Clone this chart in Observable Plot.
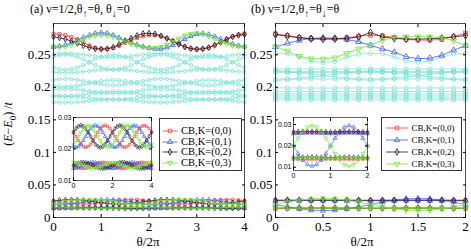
<!DOCTYPE html>
<html><head><meta charset="utf-8">
<script src="https://cdn.jsdelivr.net/npm/d3@7"></script>
<script src="https://cdn.jsdelivr.net/npm/@observablehq/plot@0.6"></script>
<style>
body{margin:0;background:#fff;}
#root{position:relative;width:471px;height:249px;overflow:hidden;font-family:"Liberation Serif",serif;color:#000;}
#root > svg{position:absolute;left:0;top:0;}
.txt{position:absolute;white-space:nowrap;line-height:1;}
.legend{position:absolute;border:1px solid #333;background:#fff;box-sizing:border-box;}
.legend .row{position:absolute;left:0;white-space:nowrap;line-height:1;}
.legend svg{position:absolute;overflow:visible;}
</style></head>
<body><div id="root"></div>
<script>
// ---------------- data ----------------
const thetaA = [0,0.125,0.25,0.375,0.5,0.625,0.75,0.875,1,1.125,1.25,1.375,1.5,1.625,1.75,1.875,2,2.125,2.25,2.375,2.5,2.625,2.75,2.875,3,3.125,3.25,3.375,3.5,3.625,3.75,3.875,4];
const thetaB = [0,0.125,0.25,0.375,0.5,0.625,0.75,0.875,1,1.125,1.25,1.375,1.5,1.625,1.75,1.875,2];

const xTicksA = [0,1,2,3,4];
const xTicksB = [0,0.5,1,1.5,2];
const yTicks = [0,0.05,0.1,0.15,0.2,0.25];
const insetXTicksA = [0,2,4];
const insetXTicksB = [0,1,2];
const insetYTicks = [0.01,0.02,0.03];
const legendLabels = ["CB,K=(0,0)","CB,K=(0,1)","CB,K=(0,2)","CB,K=(0,3)"];

// panel (a) top states
const aRedTop   = [0.2820,0.2815,0.2800,0.2770,0.2735,0.2690,0.2640,0.2605,0.2590,0.2590,0.2605,0.2640,0.2685,0.2725,0.2760,0.2785,0.2800,0.2800,0.2785,0.2755,0.2715,0.2670,0.2625,0.2595,0.2585,0.2590,0.2610,0.2650,0.2695,0.2740,0.2780,0.2810,0.2825];
const aBlueTop  = [0.2620,0.2630,0.2650,0.2685,0.2725,0.2765,0.2800,0.2828,0.2838,0.2830,0.2800,0.2760,0.2720,0.2685,0.2655,0.2625,0.2605,0.2590,0.2590,0.2610,0.2645,0.2690,0.2740,0.2785,0.2815,0.2825,0.2810,0.2780,0.2740,0.2700,0.2665,0.2640,0.2625];
const aBlackTop = [0.2775,0.2760,0.2740,0.2710,0.2675,0.2640,0.2610,0.2592,0.2585,0.2592,0.2615,0.2660,0.2710,0.2755,0.2795,0.2825,0.2832,0.2820,0.2790,0.2750,0.2705,0.2660,0.2620,0.2595,0.2585,0.2590,0.2610,0.2645,0.2690,0.2735,0.2775,0.2800,0.2810];
const aGreenTop = [0.2625,0.2615,0.2625,0.2650,0.2695,0.2740,0.2775,0.2792,0.2800,0.2795,0.2775,0.2745,0.2705,0.2665,0.2635,0.2615,0.2605,0.2605,0.2620,0.2655,0.2700,0.2750,0.2795,0.2822,0.2830,0.2815,0.2785,0.2745,0.2700,0.2665,0.2640,0.2625,0.2620];

// panel (a) cyan states
const aCyan1  = [0.2511,0.2518,0.2520,0.2518,0.2511,0.2501,0.2490,0.2479,0.2469,0.2462,0.2460,0.2462,0.2469,0.2479,0.2490,0.2501,0.2511,0.2518,0.2520,0.2518,0.2511,0.2501,0.2490,0.2479,0.2469,0.2462,0.2460,0.2462,0.2469,0.2479,0.2490,0.2501,0.2511];
const aCyan2  = [0.2304,0.2279,0.2270,0.2279,0.2304,0.2341,0.2385,0.2429,0.2466,0.2491,0.2500,0.2491,0.2466,0.2429,0.2385,0.2341,0.2304,0.2279,0.2270,0.2279,0.2304,0.2341,0.2385,0.2429,0.2466,0.2491,0.2500,0.2491,0.2466,0.2429,0.2385,0.2341,0.2304];
const aCyan3  = [0.2466,0.2491,0.2500,0.2491,0.2466,0.2429,0.2385,0.2341,0.2304,0.2279,0.2270,0.2279,0.2304,0.2341,0.2385,0.2429,0.2466,0.2491,0.2500,0.2491,0.2466,0.2429,0.2385,0.2341,0.2304,0.2279,0.2270,0.2279,0.2304,0.2341,0.2385,0.2429,0.2466];
const aCyan4  = [0.2232,0.2227,0.2225,0.2227,0.2232,0.2240,0.2250,0.2260,0.2268,0.2273,0.2275,0.2273,0.2268,0.2260,0.2250,0.2240,0.2232,0.2227,0.2225,0.2227,0.2232,0.2240,0.2250,0.2260,0.2268,0.2273,0.2275,0.2273,0.2268,0.2260,0.2250,0.2240,0.2232];
const aCyan5  = [0.2115,0.2126,0.2130,0.2126,0.2115,0.2099,0.2080,0.2061,0.2045,0.2034,0.2030,0.2034,0.2045,0.2061,0.2080,0.2099,0.2115,0.2126,0.2130,0.2126,0.2115,0.2099,0.2080,0.2061,0.2045,0.2034,0.2030,0.2034,0.2045,0.2061,0.2080,0.2099,0.2115];
const aCyan6  = [0.2025,0.2014,0.2010,0.2014,0.2025,0.2041,0.2060,0.2079,0.2095,0.2106,0.2110,0.2106,0.2095,0.2079,0.2060,0.2041,0.2025,0.2014,0.2010,0.2014,0.2025,0.2041,0.2060,0.2079,0.2095,0.2106,0.2110,0.2106,0.2095,0.2079,0.2060,0.2041,0.2025];
const aCyan7  = [0.1965,0.1972,0.1975,0.1972,0.1965,0.1953,0.1940,0.1927,0.1915,0.1908,0.1905,0.1908,0.1915,0.1927,0.1940,0.1953,0.1965,0.1972,0.1975,0.1972,0.1965,0.1953,0.1940,0.1927,0.1915,0.1908,0.1905,0.1908,0.1915,0.1927,0.1940,0.1953,0.1965];
const aCyan8  = [0.1875,0.1868,0.1865,0.1868,0.1875,0.1887,0.1900,0.1913,0.1925,0.1932,0.1935,0.1932,0.1925,0.1913,0.1900,0.1887,0.1875,0.1868,0.1865,0.1868,0.1875,0.1887,0.1900,0.1913,0.1925,0.1932,0.1935,0.1932,0.1925,0.1913,0.1900,0.1887,0.1875];
const aCyan9  = [0.1853,0.1858,0.1860,0.1858,0.1853,0.1845,0.1835,0.1825,0.1817,0.1812,0.1810,0.1812,0.1817,0.1825,0.1835,0.1845,0.1853,0.1858,0.1860,0.1858,0.1853,0.1845,0.1835,0.1825,0.1817,0.1812,0.1810,0.1812,0.1817,0.1825,0.1835,0.1845,0.1853];
const aCyan10 = [0.1772,0.1767,0.1765,0.1767,0.1772,0.1780,0.1790,0.1800,0.1808,0.1813,0.1815,0.1813,0.1808,0.1800,0.1790,0.1780,0.1772,0.1767,0.1765,0.1767,0.1772,0.1780,0.1790,0.1800,0.1808,0.1813,0.1815,0.1813,0.1808,0.1800,0.1790,0.1780,0.1772];

// panel (a) low-lying states (main bottom + inset)
const aRedUp    = [0.0253,0.0240,0.0227,0.0215,0.0208,0.0205,0.0208,0.0215,0.0227,0.0240,0.0253,0.0265,0.0272,0.0275,0.0272,0.0265,0.0253,0.0240,0.0227,0.0215,0.0208,0.0205,0.0208,0.0215,0.0227,0.0240,0.0253,0.0265,0.0272,0.0275,0.0272,0.0265,0.0253];
const aBlueUp   = [0.0208,0.0205,0.0208,0.0215,0.0227,0.0240,0.0253,0.0265,0.0272,0.0275,0.0272,0.0265,0.0253,0.0240,0.0227,0.0215,0.0208,0.0205,0.0208,0.0215,0.0227,0.0240,0.0253,0.0265,0.0272,0.0275,0.0272,0.0265,0.0253,0.0240,0.0227,0.0215,0.0208];
const aBlackUp  = [0.0253,0.0265,0.0272,0.0275,0.0272,0.0265,0.0253,0.0240,0.0227,0.0215,0.0208,0.0205,0.0208,0.0215,0.0227,0.0240,0.0253,0.0265,0.0272,0.0275,0.0272,0.0265,0.0253,0.0240,0.0227,0.0215,0.0208,0.0205,0.0208,0.0215,0.0227,0.0240,0.0253];
const aGreenUp  = [0.0215,0.0227,0.0240,0.0253,0.0265,0.0272,0.0275,0.0272,0.0265,0.0253,0.0240,0.0227,0.0215,0.0208,0.0205,0.0208,0.0215,0.0227,0.0240,0.0253,0.0265,0.0272,0.0275,0.0272,0.0265,0.0253,0.0240,0.0227,0.0215,0.0208,0.0205,0.0208,0.0215];
const aRedLow   = [0.0148,0.0144,0.0141,0.0139,0.0138,0.0139,0.0141,0.0144,0.0148,0.0152,0.0155,0.0157,0.0158,0.0157,0.0155,0.0152,0.0148,0.0144,0.0141,0.0139,0.0138,0.0139,0.0141,0.0144,0.0148,0.0152,0.0155,0.0157,0.0158,0.0157,0.0155,0.0152,0.0148];
const aBlueLow  = [0.0138,0.0139,0.0141,0.0144,0.0148,0.0152,0.0155,0.0157,0.0158,0.0157,0.0155,0.0152,0.0148,0.0144,0.0141,0.0139,0.0138,0.0139,0.0141,0.0144,0.0148,0.0152,0.0155,0.0157,0.0158,0.0157,0.0155,0.0152,0.0148,0.0144,0.0141,0.0139,0.0138];
const aBlackLow = [0.0148,0.0152,0.0155,0.0157,0.0158,0.0157,0.0155,0.0152,0.0148,0.0144,0.0141,0.0139,0.0138,0.0139,0.0141,0.0144,0.0148,0.0152,0.0155,0.0157,0.0158,0.0157,0.0155,0.0152,0.0148,0.0144,0.0141,0.0139,0.0138,0.0139,0.0141,0.0144,0.0148];
const aGreenLow = [0.0158,0.0157,0.0155,0.0152,0.0148,0.0144,0.0141,0.0139,0.0138,0.0139,0.0141,0.0144,0.0148,0.0152,0.0155,0.0157,0.0158,0.0157,0.0155,0.0152,0.0148,0.0144,0.0141,0.0139,0.0138,0.0139,0.0141,0.0144,0.0148,0.0152,0.0155,0.0157,0.0158];

// panel (b) top states
const bRedTop   = [0.2820,0.2795,0.2765,0.2750,0.2745,0.2748,0.2760,0.2785,0.2800,0.2790,0.2765,0.2735,0.2725,0.2725,0.2735,0.2780,0.2830];
const bBlueTop  = [0.2620,0.2675,0.2720,0.2752,0.2760,0.2755,0.2735,0.2700,0.2643,0.2590,0.2540,0.2470,0.2440,0.2448,0.2490,0.2570,0.2640];
const bBlackTop = [0.2810,0.2785,0.2760,0.2745,0.2740,0.2742,0.2750,0.2775,0.2843,0.2775,0.2750,0.2742,0.2740,0.2745,0.2755,0.2775,0.2795];
const bGreenTop = [0.2625,0.2560,0.2480,0.2440,0.2435,0.2455,0.2520,0.2590,0.2650,0.2720,0.2765,0.2775,0.2778,0.2775,0.2760,0.2715,0.2640];

// panel (b) cyan states
const bCyan1  = [0.2520,0.2515,0.2470,0.2400,0.2380,0.2395,0.2460,0.2510,0.2520,0.2515,0.2470,0.2405,0.2385,0.2400,0.2465,0.2512,0.2520];
const bCyan2  = [0.2282,0.2282,0.2281,0.2280,0.2280,0.2280,0.2281,0.2282,0.2282,0.2282,0.2281,0.2280,0.2280,0.2280,0.2281,0.2282,0.2282];
const bCyan3  = [0.2243,0.2243,0.2242,0.2241,0.2241,0.2241,0.2242,0.2243,0.2243,0.2243,0.2242,0.2241,0.2241,0.2241,0.2242,0.2243,0.2243];
const bCyan4  = [0.2226,0.2226,0.2225,0.2225,0.2224,0.2225,0.2225,0.2226,0.2226,0.2226,0.2225,0.2225,0.2224,0.2225,0.2225,0.2226,0.2226];
const bCyan5  = [0.2260,0.2240,0.2220,0.2200,0.2180,0.2160,0.2140,0.2120,0.2105,0.2120,0.2140,0.2160,0.2180,0.2200,0.2220,0.2240,0.2260];
const bCyan6  = [0.2105,0.2120,0.2140,0.2160,0.2180,0.2200,0.2220,0.2240,0.2260,0.2240,0.2220,0.2200,0.2180,0.2160,0.2140,0.2120,0.2105];
const bCyan7  = [0.2128,0.2128,0.2127,0.2127,0.2126,0.2127,0.2127,0.2128,0.2128,0.2128,0.2127,0.2127,0.2126,0.2127,0.2127,0.2128,0.2128];
const bCyan8  = [0.1990,0.1990,0.1989,0.1989,0.1988,0.1989,0.1989,0.1990,0.1990,0.1990,0.1989,0.1989,0.1988,0.1989,0.1989,0.1990,0.1990];
const bCyan9  = [0.1938,0.1938,0.1937,0.1937,0.1936,0.1937,0.1937,0.1938,0.1938,0.1938,0.1937,0.1937,0.1936,0.1937,0.1937,0.1938,0.1938];
const bCyan10 = [0.1898,0.1898,0.1897,0.1897,0.1896,0.1897,0.1897,0.1898,0.1898,0.1898,0.1897,0.1897,0.1896,0.1897,0.1897,0.1898,0.1898];
const bCyan11 = [0.1868,0.1868,0.1867,0.1867,0.1866,0.1867,0.1867,0.1868,0.1868,0.1868,0.1867,0.1867,0.1866,0.1867,0.1867,0.1868,0.1868];
const bCyan12 = [0.1838,0.1838,0.1837,0.1837,0.1836,0.1837,0.1837,0.1838,0.1838,0.1838,0.1837,0.1837,0.1836,0.1837,0.1837,0.1838,0.1838];
const bCyan13 = [0.1808,0.1808,0.1807,0.1807,0.1806,0.1807,0.1807,0.1808,0.1808,0.1808,0.1807,0.1807,0.1806,0.1807,0.1807,0.1808,0.1808];

// panel (b) low-lying states (main bottom + inset)
const bRedUp      = [0.0260,0.0261,0.0262,0.0263,0.0263,0.0263,0.0262,0.0261,0.0260,0.0261,0.0262,0.0263,0.0263,0.0263,0.0262,0.0261,0.0260];
const bRedLow     = [0.0138,0.0137,0.0136,0.0136,0.0136,0.0136,0.0137,0.0138,0.0139,0.0138,0.0137,0.0136,0.0136,0.0136,0.0137,0.0138,0.0139];
const bBlueSweep  = [0.0200,0.0164,0.0133,0.0112,0.0105,0.0112,0.0133,0.0164,0.0200,0.0236,0.0267,0.0288,0.0295,0.0288,0.0267,0.0236,0.0200];
const bBlueFlat   = [0.0257,0.0258,0.0259,0.0260,0.0260,0.0260,0.0259,0.0258,0.0257,0.0258,0.0259,0.0260,0.0260,0.0260,0.0259,0.0258,0.0257];
const bBlackUp    = [0.0266,0.0267,0.0268,0.0268,0.0268,0.0268,0.0267,0.0266,0.0265,0.0266,0.0267,0.0268,0.0268,0.0268,0.0267,0.0266,0.0265];
const bBlackLow   = [0.0145,0.0146,0.0147,0.0147,0.0147,0.0147,0.0146,0.0145,0.0144,0.0145,0.0146,0.0147,0.0147,0.0147,0.0146,0.0145,0.0144];
const bGreenSweep = [0.0200,0.0236,0.0267,0.0288,0.0295,0.0288,0.0267,0.0236,0.0200,0.0164,0.0133,0.0112,0.0105,0.0112,0.0133,0.0164,0.0200];
const bGreenFlat  = [0.0141,0.0142,0.0143,0.0144,0.0144,0.0144,0.0143,0.0142,0.0141,0.0142,0.0143,0.0144,0.0144,0.0144,0.0143,0.0142,0.0141];

// ---------------- styles ----------------
const COL = {red:"#ff3b3b", blue:"#3a5cff", black:"#1a1a1a", green:"#6fe62e", cyan:"#72e2d3"};
const SYM = {red:["square",0], blue:["triangle",0], black:["diamond",0], green:["triangle",180]};
const legendKeys = ["red","blue","black","green"];

function series(values, theta, key, r, sw) {
  const data = values.map((v, i) => ({t: theta[i], v}));
  const color = COL[key];
  const [symbol, rotate] = key === "cyan" ? ["circle", 0] : SYM[key];
  return [
    Plot.line(data, {x: "t", y: "v", stroke: color, strokeWidth: sw}),
    Plot.dot(data, {x: "t", y: "v", stroke: color, fill: "none", symbol, rotate, r, strokeWidth: sw})
  ];
}

function boxAxes(xt, yt, fmtSize, labelOpts) {
  const blank = () => "";
  return [
    Plot.axisX(xt, {anchor: "bottom", tickSize: -3, tickFormat: blank, label: null}),
    Plot.axisX(xt, {anchor: "top", tickSize: -3, tickFormat: blank, label: null}),
    Plot.axisY(yt, {anchor: "left", tickSize: -3, tickFormat: blank, label: null}),
    Plot.axisY(yt, {anchor: "right", tickSize: -3, tickFormat: blank, label: null}),
    Plot.axisX(xt, {anchor: "bottom", tickSize: 0, tickPadding: labelOpts.xPad, tickFormat: d => String(d), label: null, fontSize: fmtSize}),
    Plot.axisY(yt, {anchor: "left", tickSize: 0, tickPadding: labelOpts.yPad, tickFormat: d => String(d), label: null, fontSize: fmtSize})
  ];
}

const root = document.getElementById("root");
const W = 471, H = 249;
const baseStyle = {background: "transparent", fontFamily: "Liberation Serif", fontSize: "13px", color: "black", overflow: "visible"};

// ---------------- main panel (a) ----------------
const aCyans = [aCyan1,aCyan2,aCyan3,aCyan4,aCyan5,aCyan6,aCyan7,aCyan8,aCyan9,aCyan10];
const aTop = {red: aRedTop, blue: aBlueTop, black: aBlackTop, green: aGreenTop};
const aUp = {red: aRedUp, blue: aBlueUp, black: aBlackUp, green: aGreenUp};
const aLow = {red: aRedLow, blue: aBlueLow, black: aBlackLow, green: aGreenLow};

const panelA = Plot.plot({
  width: W, height: H, marginLeft: 53, marginRight: 227, marginTop: 23, marginBottom: 32,
  x: {domain: [0, 4]}, y: {domain: [0, 0.298]},
  style: baseStyle,
  marks: [
    ...aCyans.flatMap(c => series(c, thetaA, "cyan", 1.8, 0.7)),
    ...legendKeys.flatMap(k => series(aLow[k], thetaA, k, 1.6, 0.7)),
    ...legendKeys.flatMap(k => series(aUp[k], thetaA, k, 1.6, 0.7)),
    ...legendKeys.flatMap(k => series(aTop[k], thetaA, k, 1.8, 0.8)),
    Plot.frame({stroke: "#222", strokeWidth: 0.8}),
    ...boxAxes(xTicksA, yTicks, 13, {xPad: 4, yPad: 3})
  ]
});
root.appendChild(panelA);

// ---------------- main panel (b) ----------------
const bCyans = [bCyan1,bCyan2,bCyan3,bCyan4,bCyan5,bCyan6,bCyan7,bCyan8,bCyan9,bCyan10,bCyan11,bCyan12,bCyan13];
const bTop = {red: bRedTop, blue: bBlueTop, black: bBlackTop, green: bGreenTop};
const bLowSets = [[bRedUp,"red"],[bRedLow,"red"],[bBlueFlat,"blue"],[bBlueSweep,"blue"],[bBlackUp,"black"],[bBlackLow,"black"],[bGreenFlat,"green"],[bGreenSweep,"green"]];

const panelB = Plot.plot({
  width: W, height: H, marginLeft: 275, marginRight: 6, marginTop: 23, marginBottom: 32,
  x: {domain: [0, 2]}, y: {domain: [0, 0.298]},
  style: baseStyle,
  marks: [
    ...bCyans.flatMap(c => series(c, thetaB, "cyan", 2.1, 0.7)),
    ...bLowSets.flatMap(([v, k]) => series(v, thetaB, k, 2.0, 0.7)),
    ...legendKeys.flatMap(k => series(bTop[k], thetaB, k, 2.2, 0.8)),
    Plot.frame({stroke: "#222", strokeWidth: 0.8}),
    ...boxAxes(xTicksB, yTicks, 13, {xPad: 4, yPad: 3})
  ]
});
root.appendChild(panelB);

// ---------------- insets ----------------
const insetStyle = {...baseStyle, fontFamily: "Liberation Sans", fontSize: "7px"};
const insetA = Plot.plot({
  width: W, height: H, marginLeft: 73, marginRight: 320, marginTop: 117, marginBottom: 69,
  x: {domain: [0, 4]}, y: {domain: [0.01, 0.03]},
  style: insetStyle,
  marks: [
    Plot.frame({fill: "white", stroke: null}),
    ...legendKeys.flatMap(k => series(aLow[k], thetaA, k, 1.4, 0.6)),
    ...legendKeys.flatMap(k => series(aUp[k], thetaA, k, 1.4, 0.6)),
    Plot.frame({stroke: "#222", strokeWidth: 0.7}),
    ...boxAxes(insetXTicksA, insetYTicks, 7, {xPad: 3, yPad: 2})
  ]
});
root.appendChild(insetA);

const insetB = Plot.plot({
  width: W, height: H, marginLeft: 293, marginRight: 104, marginTop: 117, marginBottom: 79,
  x: {domain: [0, 2]}, y: {domain: [0.00845, 0.0333]},
  style: insetStyle,
  marks: [
    Plot.frame({fill: "white", stroke: null}),
    ...bLowSets.flatMap(([v, k]) => series(v, thetaB, k, 1.5, 0.6)),
    Plot.frame({stroke: "#222", strokeWidth: 0.7}),
    ...boxAxes(insetXTicksB, insetYTicks, 7, {xPad: 3, yPad: 2})
  ]
});
root.appendChild(insetB);

// ---------------- texts ----------------
function addText(html, x, y, css) {
  const d = document.createElement("div");
  d.className = "txt";
  d.innerHTML = html;
  d.style.left = x + "px";
  d.style.top = y + "px";
  Object.assign(d.style, css || {});
  root.appendChild(d);
  return d;
}
const subCss = 'font-size:10px;vertical-align:-4px;line-height:0';
addText(`(a) ν=1/2,θ<span style="${subCss}">↑</span>=θ, θ<span style="${subCss}">↓</span>=0`, 30, 3, {fontSize: "12px"});
addText(`(b) ν=1/2,θ<span style="${subCss}">↑</span>=θ<span style="${subCss}">↓</span>=θ`, 251, 3, {fontSize: "12px"});
addText(`θ/2π`, 148, 241, {fontSize: "13px", transform: "translate(-50%,-50%)"});
addText(`θ/2π`, 362, 241, {fontSize: "13px", transform: "translate(-50%,-50%)"});
addText(`(<i>E</i>−<i>E</i><sub style="font-size:9px">0</sub>) /<i>t</i>`, 10, 124, {fontSize: "12px", transform: "translate(-50%,-50%) rotate(-90deg)"});

// ---------------- legends ----------------
function addLegend(left, top, w, h, rowY, fontSize, lx1, lx2, tx) {
  const box = document.createElement("div");
  box.className = "legend";
  Object.assign(box.style, {left: left + "px", top: top + "px", width: w + "px", height: h + "px"});
  legendKeys.forEach((k, i) => {
    const ns = "http://www.w3.org/2000/svg";
    const svg = document.createElementNS(ns, "svg");
    svg.setAttribute("width", 1); svg.setAttribute("height", 1);
    svg.style.left = "0px"; svg.style.top = rowY[i] + "px";
    const line = document.createElementNS(ns, "line");
    line.setAttribute("x1", lx1); line.setAttribute("x2", lx2);
    line.setAttribute("y1", 0); line.setAttribute("y2", 0);
    line.setAttribute("stroke", COL[k]); line.setAttribute("stroke-width", 0.8);
    svg.appendChild(line);
    const [symName, rot] = SYM[k];
    const sym = {square: d3.symbolSquare, triangle: d3.symbolTriangle, diamond: d3.symbolDiamond}[symName];
    const p = document.createElementNS(ns, "path");
    p.setAttribute("d", d3.symbol(sym, Math.PI * 2 * 2)());
    p.setAttribute("transform", `translate(${(lx1 + lx2) / 2},0) rotate(${rot})`);
    p.setAttribute("fill", "none"); p.setAttribute("stroke", COL[k]); p.setAttribute("stroke-width", 0.8);
    svg.appendChild(p);
    box.appendChild(svg);
    const t = document.createElement("div");
    t.className = "row";
    t.textContent = legendLabels[i];
    Object.assign(t.style, {left: tx + "px", top: rowY[i] + "px", fontSize: fontSize + "px", transform: "translateY(-50%)"});
    box.appendChild(t);
  });
  root.appendChild(box);
}
addLegend(159, 118, 83, 53, [12, 22.7, 33.4, 44.1], 10.5, 2.5, 17.5, 21);
addLegend(380.5, 117, 81.5, 53.5, [9.5, 21.5, 33.5, 45.5], 9, 4, 26, 30);
</script>
</body></html>
